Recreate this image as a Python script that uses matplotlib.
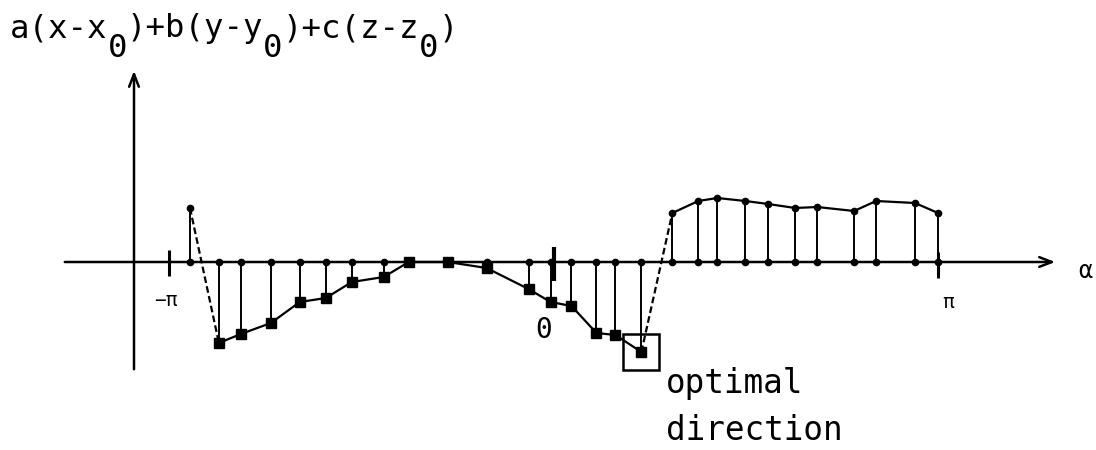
import numpy as np
import matplotlib
matplotlib.use("Agg")
import matplotlib.pyplot as plt

# Sampled directions alpha (radians) and the signed distance a(x-x0)+b(y-y0)+c(z-z0)
alpha = [-2.970, -2.734, -2.554, -2.309, -2.073, -1.860, -1.648, -1.387,
         -1.183, -0.865, -0.547, -0.204, -0.024, 0.147, 0.351, 0.506,
         0.718, 0.971, 1.183, 1.338, 1.567, 1.754, 1.975, 2.154,
         2.456, 2.636, 2.954, 3.142]
value = [0.54, -0.81, -0.72, -0.61, -0.40, -0.36, -0.20, -0.15,
         0.00, 0.00, -0.06, -0.27, -0.40, -0.44, -0.71, -0.73,
         -0.90, 0.49, 0.61, 0.64, 0.61, 0.58, 0.54, 0.55,
         0.51, 0.61, 0.59, 0.49]
tick_pos = [-np.pi, 0.0, np.pi]
tick_text = ["\u2212\u03c0", "0", "\u03c0"]
# vertical-axis label: (text, is_subscript) pieces
ylab_parts = [("a(x-x", False), ("0", True), (")+b(y-y", False), ("0", True),
              (")+c(z-z", False), ("0", True), (")", False)]

W, H = 1096, 450
fig = plt.figure(figsize=(W / 100, H / 100), dpi=100)
ax = fig.add_axes([0, 0, 1, 1])
ax.set_axis_off()

# pixel layout of the drawing frame
X0, SX = 553.5, 384.5 / np.pi     # origin column, pixels per radian
Y0, SY = 262.0, 100.0             # origin row, pixels per unit
ax.set_xlim((0 - X0) / SX, (W - X0) / SX)
ax.set_ylim((Y0 - H) / SY, Y0 / SY)


def px(x, y):
    return (x - X0) / SX, (Y0 - y) / SY


mono = "DejaVu Sans Mono"
ink = "black"

# coordinate axes with open arrowheads
ax.annotate("", xy=px(1058, 262), xytext=px(62, 262),
            arrowprops=dict(arrowstyle="->,head_length=0.9,head_width=0.35",
                            lw=1.8, color=ink))
ax.annotate("", xy=px(134, 68), xytext=px(134, 372),
            arrowprops=dict(arrowstyle="->,head_length=0.9,head_width=0.35",
                            lw=1.8, color=ink))

# ticks at -pi, 0, pi
for t, h0, h1, lw in zip(tick_pos, [250, 247, 252], [276, 281, 278], [2.2, 3.0, 2.2]):
    ax.plot([t, t], [px(0, h0)[1], px(0, h1)[1]], color=ink, lw=lw,
            solid_capstyle="butt")

a = np.array(alpha)
v = np.array(value)

# stems from the axis to each sample
for ai, vi in zip(a, v):
    if vi != 0:
        ax.plot([ai, ai], [0, vi], color=ink, lw=1.4)

# polyline through the samples; sign changes drawn dashed
for i in range(len(a) - 1):
    crossing = v[i] * v[i + 1] < 0
    ax.plot(a[i:i + 2], v[i:i + 2], color=ink, lw=1.6,
            ls=(0, (3, 1.5)) if crossing else "-")

# markers on the axis
zero = v == 0
ax.plot(a[~zero], np.zeros((~zero).sum()), "o", color=ink, ms=4.5)
# sample markers: squares below, dots above, squares on zero
neg = (v < 0) | zero
pos = v > 0
ax.plot(a[neg], v[neg], "s", color=ink, ms=6.5)
ax.plot(a[pos], v[pos], "o", color=ink, ms=4.5)

# highlight the minimum as the optimal direction
k = int(np.argmin(v))
ax.plot(a[k], v[k], "s", mfc="none", mec=ink, mew=1.8, ms=26)

# labels
ax.text(*px(166, 300), tick_text[0], fontsize=14, family=mono,
        ha="center", va="center")
ax.text(*px(544, 330), tick_text[1], fontsize=20, family=mono,
        ha="center", va="center")
ax.text(*px(948, 302), tick_text[2], fontsize=14, family=mono,
        ha="center", va="center")
ax.text(*px(1085, 271), "\u03b1", fontsize=17, family=mono,
        ha="center", va="center")

# vertical-axis label laid out on a monospaced grid, subscripts dropped
fs = 23.3
adv = 0.602 * fs * 100 / 72       # character advance in pixels
col = 0
for txt, sub in ylab_parts:
    ax.text(*px(10 + col * adv, 57 if sub else 37), txt, fontsize=fs,
            family=mono, ha="left", va="baseline")
    col += len(txt)

ax.text(*px(666, 393), "optimal", fontsize=23.5, family=mono,
        ha="left", va="baseline")
ax.text(*px(666, 440), "direction", fontsize=23.5, family=mono,
        ha="left", va="baseline")

fig.savefig("out.png", dpi=100)
